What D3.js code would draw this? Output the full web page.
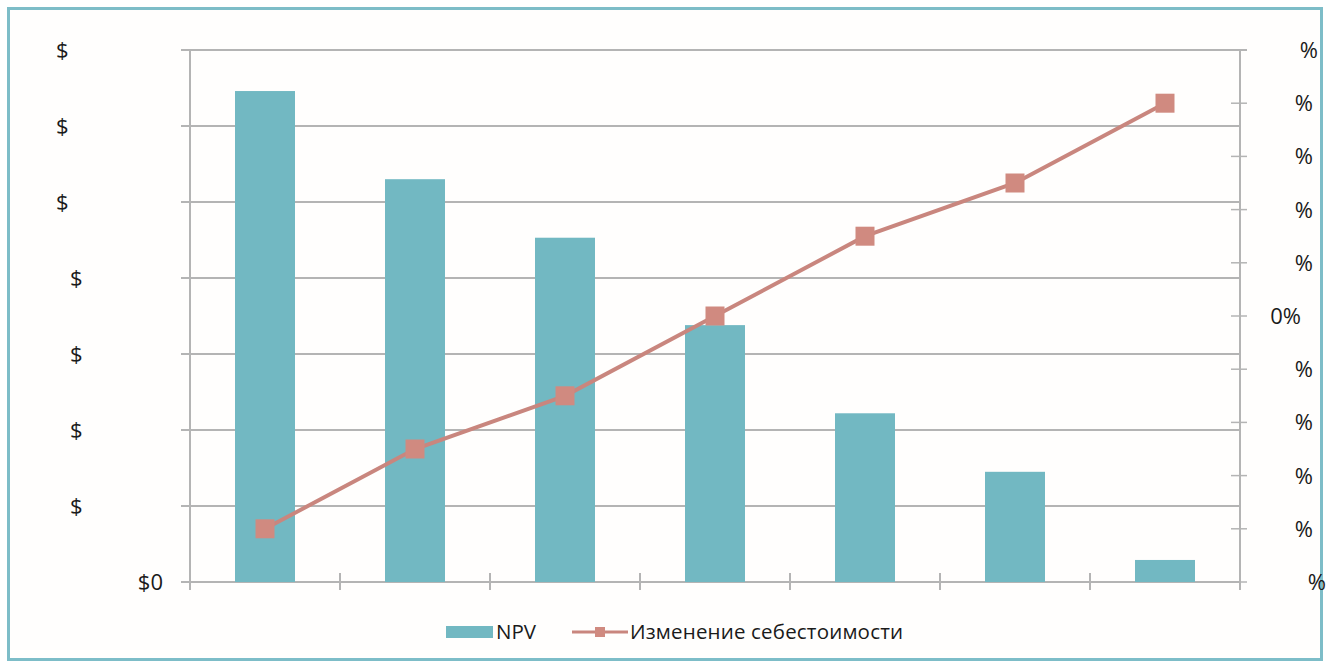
<!DOCTYPE html>
<html>
<head>
<meta charset="utf-8">
<script src="https://cdn.jsdelivr.net/npm/d3@7"></script>
<style>
  html, body { margin: 0; padding: 0; background: #ffffff; }
  svg { display: block; }
  text { font-family: "Open Sans", "Noto Sans", sans-serif; fill: #1a1a1a; }
</style>
</head>
<body>
<svg id="chart" width="1327" height="664"></svg>
<script>
// Scenario categories (one bar and one line point per scenario)
const categories = ["s1", "s2", "s3", "s4", "s5", "s6", "s7"];
// NPV per scenario, USD
const npvValues = [3230000, 2650000, 2265000, 1690000, 1110000, 725000, 145000];
// Cost change per scenario, fraction
const costChange = [-0.40, -0.25, -0.15, 0.00, 0.15, 0.25, 0.40];
// Axis tick values and their labels
const npvTicks = [0, 500000, 1000000, 1500000, 2000000, 2500000, 3000000, 3500000];
const npvTickLabels = ["$0", "$", "$", "$", "$", "$", "$", "$"];
const pctTicks = [-0.5, -0.4, -0.3, -0.2, -0.1, 0, 0.1, 0.2, 0.3, 0.4, 0.5];
const pctTickLabels = ["%", "%", "%", "%", "%", "0%", "%", "%", "%", "%", "%"];
const seriesNames = ["NPV", "Изменение себестоимости"];

const svg = d3.select("#chart");
const plot = { left: 190, right: 1240, top: 50, bottom: 582 };

const barColor = "#72b8c2";
const lineColor = "#c9867e";
const markerColor = "#d08a80";
const gridColor = "#b4b4b4";

// outer frame
svg.append("rect")
  .attr("x", 8.5).attr("y", 8.5)
  .attr("width", 1313).attr("height", 651)
  .attr("fill", "#fffefd")
  .attr("stroke", "#7dbdc8").attr("stroke-width", 3);

const x = d3.scaleBand().domain(categories)
  .range([plot.left, plot.right]).paddingInner(0.6).paddingOuter(0.3);
const xOuter = d3.scaleBand().domain(categories).range([plot.left, plot.right]);
const yL = d3.scaleLinear().domain([0, 3500000]).range([plot.bottom, plot.top]);
const yR = d3.scaleLinear().domain([-0.5, 0.5]).range([plot.bottom, plot.top]);

// horizontal gridlines along the left axis ticks
svg.append("g").selectAll("line").data(npvTicks).join("line")
  .attr("x1", plot.left - 9).attr("x2", (d, i) => i === npvTicks.length - 1 ? plot.right + 7 : plot.right)
  .attr("y1", d => yL(d)).attr("y2", d => yL(d))
  .attr("stroke", gridColor).attr("stroke-width", 2);

// left axis labels
const leftLabelX = d => (d >= 2500000 ? 56 : 70);
svg.append("g").selectAll("text").data(npvTicks).join("text")
  .attr("x", (d, i) => i === 0 ? 163 : leftLabelX(d))
  .attr("y", d => yL(d))
  .attr("dy", "0.36em")
  .attr("text-anchor", (d, i) => i === 0 ? "end" : "start")
  .attr("font-size", 22)
  .attr("font-weight", 500)
  .text((d, i) => npvTickLabels[i]);

// bars
svg.append("g").selectAll("rect").data(npvValues).join("rect")
  .attr("x", (d, i) => x(categories[i]))
  .attr("width", x.bandwidth())
  .attr("y", d => yL(d))
  .attr("height", d => yL(0) - yL(d))
  .attr("fill", barColor);

// left and right axis lines
svg.append("line").attr("x1", plot.left).attr("x2", plot.left)
  .attr("y1", plot.top).attr("y2", plot.bottom + 8)
  .attr("stroke", gridColor).attr("stroke-width", 2);
svg.append("line").attr("x1", plot.right).attr("x2", plot.right)
  .attr("y1", plot.top).attr("y2", plot.bottom + 8)
  .attr("stroke", gridColor).attr("stroke-width", 2);

// category boundary ticks on the x axis
const xTickPos = categories.map(c => xOuter(c)).concat([plot.right]);
svg.append("g").selectAll("line").data(xTickPos.slice(1)).join("line")
  .attr("x1", d => d).attr("x2", d => d)
  .attr("y1", plot.bottom - 9).attr("y2", plot.bottom + 8)
  .attr("stroke", gridColor).attr("stroke-width", 2);

// right axis ticks and labels
svg.append("g").selectAll("line").data(pctTicks).join("line")
  .attr("x1", plot.right - 9).attr("x2", plot.right + 7)
  .attr("y1", d => yR(d)).attr("y2", d => yR(d))
  .attr("stroke", gridColor).attr("stroke-width", 1.5);
svg.append("g").selectAll("text").data(pctTicks).join("text")
  .attr("x", (d, i) => i === pctTicks.length - 1 ? 1318 : (i === 0 ? 1326 : (d === 0 ? 1301 : 1313)))
  .attr("y", d => yR(d))
  .attr("dy", "0.36em")
  .attr("text-anchor", "end")
  .attr("font-size", 22)
  .attr("font-weight", 500)
  .text((d, i) => pctTickLabels[i]);

// cost change line with square markers
const cx = i => x(categories[i]) + x.bandwidth() / 2;
const line = d3.line().x((d, i) => cx(i)).y(d => yR(d));
svg.append("path").datum(costChange)
  .attr("d", line).attr("fill", "none")
  .attr("stroke", lineColor).attr("stroke-width", 4);
const ms = 19;
svg.append("g").selectAll("rect").data(costChange).join("rect")
  .attr("x", (d, i) => cx(i) - ms / 2)
  .attr("y", d => yR(d) - ms / 2)
  .attr("width", ms).attr("height", ms)
  .attr("fill", markerColor);

// legend
const lg = svg.append("g");
lg.append("rect").attr("x", 446).attr("y", 626).attr("width", 47).attr("height", 12).attr("fill", barColor);
lg.append("text").attr("x", 496).attr("y", 632).attr("dy", "0.36em").attr("font-size", 20.5)
  .text(seriesNames[0]);
lg.append("line").attr("x1", 572).attr("x2", 628).attr("y1", 632).attr("y2", 632)
  .attr("stroke", lineColor).attr("stroke-width", 3);
lg.append("rect").attr("x", 595).attr("y", 627).attr("width", 10).attr("height", 10).attr("fill", markerColor);
lg.append("text").attr("x", 630).attr("y", 632).attr("dy", "0.36em").attr("font-size", 20.5)
  .attr("textLength", 273).text(seriesNames[1]);
</script>
</body>
</html>
